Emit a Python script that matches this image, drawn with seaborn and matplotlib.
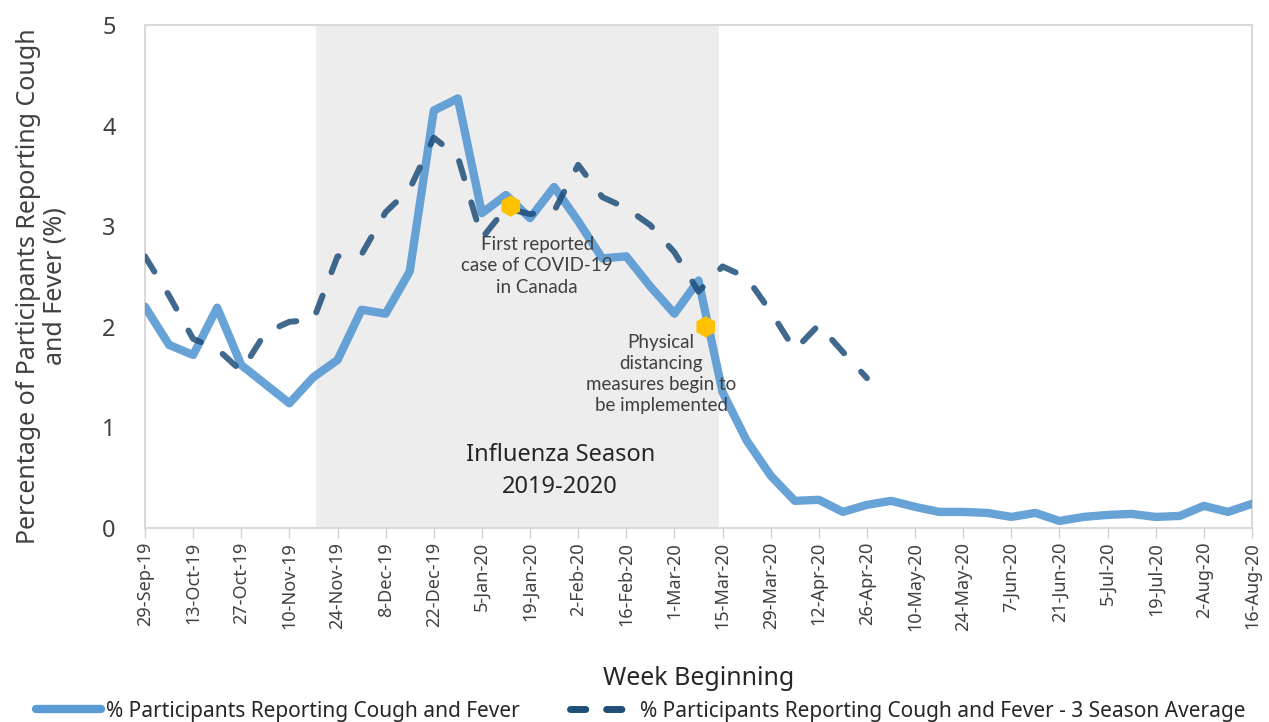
import numpy as np
import pandas as pd
import matplotlib
matplotlib.use("Agg")
import matplotlib.pyplot as plt
import seaborn as sns
from matplotlib.lines import Line2D

# ---------------- data ----------------
week_labels = ["29-Sep-19", "13-Oct-19", "27-Oct-19", "10-Nov-19", "24-Nov-19", "8-Dec-19",
               "22-Dec-19", "5-Jan-20", "19-Jan-20", "2-Feb-20", "16-Feb-20", "1-Mar-20",
               "15-Mar-20", "29-Mar-20", "12-Apr-20", "26-Apr-20", "10-May-20", "24-May-20",
               "7-Jun-20", "21-Jun-20", "5-Jul-20", "19-Jul-20", "2-Aug-20", "16-Aug-20"]

cough_fever = [2.20, 1.82, 1.72, 2.19, 1.62, 1.43, 1.24, 1.50, 1.67, 2.17,
               2.13, 2.55, 4.15, 4.27, 3.13, 3.31, 3.08, 3.39, 3.05, 2.68,
               2.70, 2.40, 2.13, 2.46, 1.35, 0.87, 0.52, 0.27, 0.28, 0.16,
               0.23, 0.27, 0.21, 0.16, 0.16, 0.15, 0.11, 0.15, 0.07, 0.11,
               0.13, 0.14, 0.11, 0.12, 0.22, 0.16, 0.24]

three_season_avg = [2.70, 2.31, 1.88, 1.78, 1.56, 1.94, 2.05, 2.07, 2.70, 2.72,
                    3.14, 3.37, 3.88, 3.69, 2.88, 3.18, 3.12, 3.15, 3.61, 3.29,
                    3.18, 3.01, 2.74, 2.35, 2.60, 2.49, 2.15, 1.77, 2.02, 1.75,
                    1.49]

season_span = [7.1, 23.85]          # influenza season shading (in weeks from 29-Sep-19)
season_text = "Influenza Season\n2019-2020"

event_texts = ["First reported\ncase of COVID-19\nin Canada",
               "Physical\ndistancing\nmeasures begin to\nbe implemented"]
event_week = [15.2, 23.3]
event_value = [3.20, 2.00]

series_names = ["% Participants Reporting Cough and Fever",
                "% Participants Reporting Cough and Fever - 3 Season Average"]

# ---------------- frame ----------------
weeks = np.arange(len(cough_fever))
df_cf = pd.DataFrame({"week": weeks, "value": cough_fever})
df_avg = pd.DataFrame({"week": np.arange(len(three_season_avg)), "value": three_season_avg})
df_ev = pd.DataFrame({"week": event_week, "value": event_value})

sns.set_theme(style="white")
plt.rcParams["font.family"] = ["Noto Sans", "DejaVu Sans"]

solid_c = "#5b9bd5"
dash_c = "#1f4e79"
txt_c = "#404040"

fig = plt.figure(figsize=(12.69, 7.22), dpi=100)
ax = fig.add_axes([145/1269, 1-528/722, (1252-145)/1269, (528-25)/722])

ax.axvspan(season_span[0], season_span[1], color="#ededed", zorder=0, lw=0)

sns.lineplot(data=df_cf, x="week", y="value", ax=ax, color=solid_c, lw=6,
             alpha=0.92, solid_capstyle="round", solid_joinstyle="round", zorder=3)
sns.lineplot(data=df_avg, x="week", y="value", ax=ax, color=dash_c, lw=4.3,
             alpha=0.85, linestyle=(0, (3.0, 4.2)), dash_capstyle="round", zorder=4)
sns.scatterplot(data=df_ev, x="week", y="value", ax=ax, color="#ffc000", marker="h",
                s=240, edgecolor="none", zorder=6)

ax.text(16.3, 2.90, event_texts[0], ha="center", va="top", fontsize=13.5,
        color=txt_c, linespacing=1.3, zorder=5, family=["Lato", "DejaVu Sans"])
ax.text(21.45, 1.93, event_texts[1], ha="center", va="top", fontsize=13.5,
        color=txt_c, linespacing=1.3, zorder=5, family=["Lato", "DejaVu Sans"])
ax.text(17.25, 0.57, season_text, ha="center", va="center", fontsize=17,
        color="#262626", linespacing=1.45, zorder=5)

ax.set_xlim(0, len(cough_fever) - 1)
ax.set_ylim(0, 5)
ax.set_xticks(np.arange(0, len(cough_fever), 2))
ax.set_xticklabels(week_labels, rotation=90)
ax.set_yticks(range(0, 6))
ax.tick_params(axis="x", length=7, width=1, color="#d0d0d0", pad=3,
               labelsize=13, labelcolor=txt_c, bottom=True)
ax.tick_params(axis="y", length=0, pad=21, labelsize=17, labelcolor=txt_c)

for sp in ax.spines.values():
    sp.set_visible(True)
    sp.set_color("#d9d9d9")
    sp.set_linewidth(1.5)

ax.set_xlabel("Week Beginning", fontsize=18, color="#262626", labelpad=25)
ax.set_ylabel("Percentage of Participants Reporting Cough\nand Fever (%)",
              fontsize=18, color=txt_c, linespacing=1.1)
ax.yaxis.set_label_coords(-0.07, 0.48)
ax.grid(False)

handles = [Line2D([], [], color=solid_c, lw=6, solid_capstyle="round"),
           Line2D([], [], color=dash_c, lw=5, linestyle=(0, (2.2, 3.0)), dash_capstyle="round")]
fig.legend(handles, series_names, loc="center", bbox_to_anchor=(0.505, 0.015), ncol=2,
           frameon=False, fontsize=15, handlelength=3.1, handletextpad=0.25,
           columnspacing=2.4, labelcolor="#262626")

fig.savefig("out.png", dpi=100)
